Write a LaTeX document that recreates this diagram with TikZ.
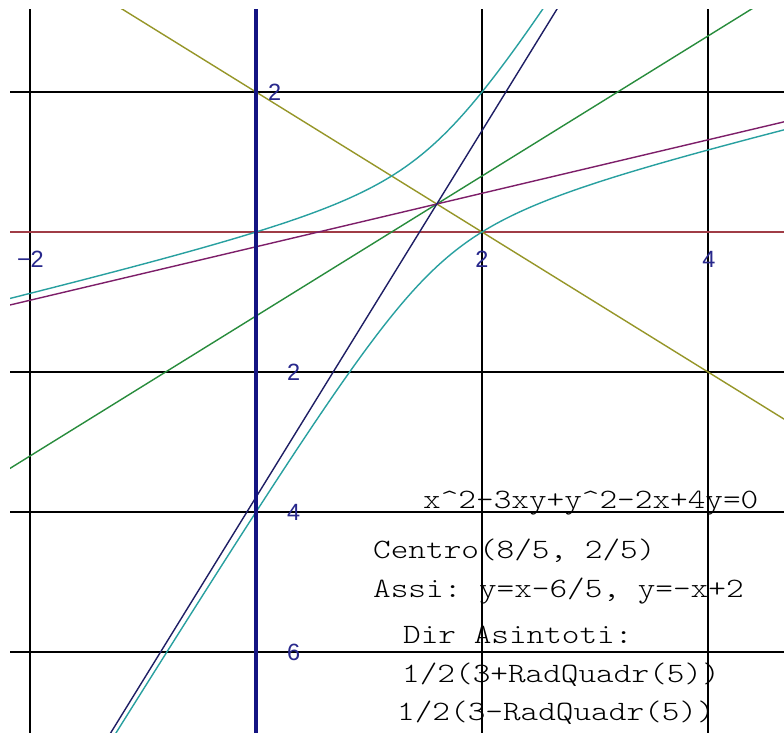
\documentclass[tikz,border=0pt]{standalone}
\usepackage{fontspec}
\newfontfamily\monofont{lmmonolt10-regular.otf}[FakeStretch=1.2]
\newfontfamily\labfont{Liberation Sans}
\definecolor{cyanc}{RGB}{40,160,160}
\definecolor{navyc}{RGB}{30,30,100}
\definecolor{purplec}{RGB}{125,30,105}
\definecolor{greenc}{RGB}{40,140,60}
\definecolor{olivec}{RGB}{150,150,40}
\definecolor{maroonc}{RGB}{160,60,70}
\definecolor{axisblue}{RGB}{20,20,130}
\definecolor{labblue}{RGB}{40,40,140}
\begin{document}
\begin{tikzpicture}[x=1pt,y=-1pt,
  gridline/.style={line width=1.8pt,color=black},
  curve/.style={line width=1.4pt},
  ticklab/.style={font=\labfont\fontsize{23.5}{24}\selectfont, text=labblue, inner sep=0pt},
  info/.style={font=\monofont\fontsize{28}{30}\selectfont\frenchspacing, inner sep=0pt, anchor=base west}]
\path[use as bounding box, fill=white] (0,0) rectangle (784,733);
\begin{scope}
\clip (10,10) rectangle (784,733);
\begin{scope}[shift={(256pt,-232pt)}, x=113pt, y=70pt]
  \foreach \gx in {-2,2,4} \draw[gridline] (\gx,-8) -- (\gx,4);
  \foreach \gy in {2,-2,-4,-6} \draw[gridline] (-3,\gy) -- (5,\gy);
  \draw[line width=1.8pt, maroonc] (-3,0) -- (5,0);
  \draw[curve, olivec] (-3,5) -- (5,-3);
  \draw[curve, greenc] (-3,-4.2) -- (5,3.8);
  \draw[curve, purplec] (-3,{0.381966*(-4.6)+0.4}) -- (5,{0.381966*3.4+0.4});
  \draw[curve, navyc] ({1.6+(-8.4)/2.618034},-8) -- ({1.6+3.6/2.618034},4);
  \draw[curve, cyanc] plot[domain=-2.3:2.65, samples=300, smooth] (\x, {((3*\x-4)+sqrt(5*\x*\x-16*\x+16))/2});
  \draw[curve, cyanc] plot[domain=-1.4:4.8, samples=300, smooth] (\x, {((3*\x-4)-sqrt(5*\x*\x-16*\x+16))/2});
  \draw[line width=3.5pt, axisblue] (0,-8) -- (0,4);
\end{scope}
\end{scope}
% axis labels
\node[ticklab, anchor=west] (ly2) at (268,92) {2};
\node[ticklab, anchor=west] (lym2) at (287,372) {2};
\node[ticklab, anchor=west] (lym4) at (287,512) {4};
\node[ticklab, anchor=west] (lym6) at (287,652) {6};
\node[ticklab, anchor=east] (lxm2) at (44,259) {\symbol{"2212}2};
\node[ticklab] (lx2) at (482,259) {2};
\node[ticklab] (lx4) at (709,259) {4};
% info text
\node[info] (eq) at (423,508) {x\textasciicircum 2-3xy+y\textasciicircum 2-2x+4y=0};
\node[info] (centro) at (373,558) {Centro(8/5, 2/5)};
\node[info] (assi) at (373,597) {Assi: y=x-6/5, y=-x+2};
\node[info] (dir) at (403,643) {Dir Asintoti:};
\node[info] (as1) at (402,682) {1/2(3+RadQuadr(5))};
\node[info] (as2) at (397,720) {1/2(3-RadQuadr(5))};
\end{tikzpicture}
\end{document}
